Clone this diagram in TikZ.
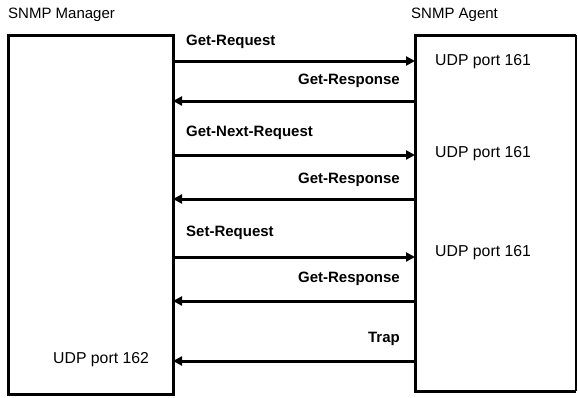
\documentclass[tikz,border=0pt]{standalone}
\usepackage{fontspec}
\setmainfont{Liberation Sans}
\usetikzlibrary{arrows.meta}
\begin{document}
\begin{tikzpicture}[x=1pt,y=-1pt,
  box/.style={draw=none,minimum width=#1,inner sep=0,outer sep=0},
  edge/.style={line width=3pt},
  thinedge/.style={line width=1.6pt},
  msg/.style={line width=3pt,-{Triangle[length=9pt,width=9pt]}},
  lbl/.style={font=\fontsize{15}{16}\selectfont\bfseries,inner sep=0},
  port/.style={font=\fontsize{15.8}{17}\selectfont,inner sep=0,anchor=west},
  title/.style={font=\fontsize{15}{16}\selectfont,inner sep=0,anchor=west}]
\useasboundingbox (0,0) rectangle (578,397);
\node[box=165pt,minimum height=359pt,anchor=north west] (mgr) at (8,35) {};
\node[box=161pt,minimum height=356pt,anchor=north west] (agt) at (415,35) {};
\draw[edge] (mgr.north west) rectangle (mgr.south east);
\draw[edge] (agt.north east) -- (agt.north west) -- (agt.south west) -- (agt.south east);
\draw[thinedge] (agt.north east) -- (agt.south east);
\node[title] (tm) at (8,15) {SNMP Manager};
\node[title] (ta) at (411,15) {SNMP Agent};
\foreach \n/\y in {1/61,2/101,3/155,4/199,5/257,6/301,7/361} {\coordinate (r\n) at (0,\y);}
\draw[msg] (mgr.east|-r1) -- (agt.west|-r1);
\draw[msg] (agt.west|-r2) -- (mgr.east|-r2);
\draw[msg] (mgr.east|-r3) -- (agt.west|-r3);
\draw[msg] (agt.west|-r4) -- (mgr.east|-r4);
\draw[msg] (mgr.east|-r5) -- (agt.west|-r5);
\draw[msg] (agt.west|-r6) -- (mgr.east|-r6);
\draw[msg] (agt.west|-r7) -- (mgr.east|-r7);
\node[lbl,anchor=west] (l1) at (186,42) {Get-Request};
\node[lbl,anchor=east] (l2) at (400,81) {Get-Response};
\node[lbl,anchor=west] (l3) at (186,133) {Get-Next-Request};
\node[lbl,anchor=east] (l4) at (400,180) {Get-Response};
\node[lbl,anchor=west] (l5) at (186,233) {Set-Request};
\node[lbl,anchor=east] (l6) at (400,279) {Get-Response};
\node[lbl,anchor=east] (l7) at (400,339) {Trap};
\node[port] (p1) at (435,62) {UDP port 161};
\node[port] (p2) at (435,154) {UDP port 161};
\node[port] (p3) at (435,253) {UDP port 161};
\node[port] (p4) at (53,360) {UDP port 162};
\end{tikzpicture}
\end{document}
